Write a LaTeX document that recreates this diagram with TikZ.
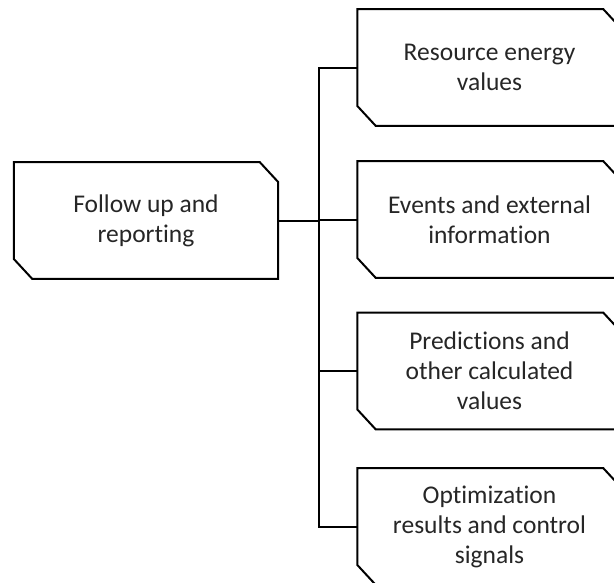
\documentclass[tikz,border=0pt]{standalone}
\usepackage{fontspec}
\setmainfont{Carlito}[Ligatures={NoCommon}]
\begin{document}
\begin{tikzpicture}[x=1pt,y=-1pt,
  chambox/.style={minimum width=264pt, minimum height=116.5pt, inner sep=0pt,
    align=center, text=black!85, font=\fontsize{25.5}{30}\selectfont},
  outline/.style={draw=black, line width=2pt, line join=miter},
  link/.style={draw=black, line width=2pt}]
\useasboundingbox (0,0) rectangle (614,582);
\clip (0,0) rectangle (614,582);

% boxes
\node[chambox] (follow) at (146,220.5) {Follow up and\\reporting};
\node[chambox] (res)  at (489.5,67.5)  {Resource energy\\values};
\node[chambox] (evt)  at (489.5,219.5) {Events and external\\information};
\node[chambox] (pred) at (489.5,371) {Predictions and\\other calculated\\values};
\node[chambox] (opt)  at (489.5,526.5)   {Optimization\\results and control\\signals};

% outlines with clipped north-east and south-west corners
\foreach \n in {follow,res,evt,pred,opt}
  \draw[outline] (\n.north west) -- ([xshift=-18.5pt]\n.north east)
    -- ([yshift=-20pt]\n.north east) -- (\n.south east)
    -- ([xshift=18.5pt]\n.south west) -- ([yshift=20pt]\n.south west) -- cycle;

% tree connectors
\coordinate (trunkx) at (319,0);
\draw[link] (res.west) -- (res.west -| trunkx) -- (opt.west -| trunkx) -- (opt.west);
\draw[link] (follow.east) -- (follow.east -| trunkx);
\draw[link] (evt.west) -- (evt.west -| trunkx);
\draw[link] (pred.west) -- (pred.west -| trunkx);
\end{tikzpicture}
\end{document}
